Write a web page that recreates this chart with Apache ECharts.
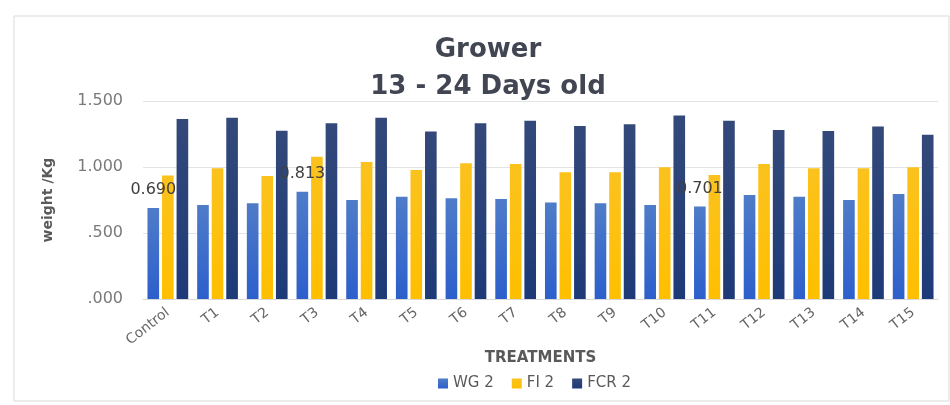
<!DOCTYPE html>
<html>
<head>
<meta charset="utf-8">
<script src="https://cdn.jsdelivr.net/npm/echarts@6/dist/echarts.min.js"></script>
<style>
html,body{margin:0;padding:0;background:#fff;}
#chart{width:950px;height:405px;}
</style>
</head>
<body>
<div id="chart"></div>
<script>
const categories = ['Control','T1','T2','T3','T4','T5','T6','T7','T8','T9','T10','T11','T12','T13','T14','T15'];
const wg2  = [0.690,0.712,0.725,0.813,0.750,0.775,0.763,0.758,0.732,0.725,0.712,0.701,0.788,0.775,0.750,0.795];
const fi2  = [0.935,0.990,0.932,1.078,1.038,0.977,1.028,1.023,0.960,0.960,0.998,0.940,1.023,0.990,0.990,0.998];
const fcr2 = [1.364,1.373,1.275,1.331,1.373,1.268,1.331,1.351,1.310,1.323,1.390,1.351,1.280,1.273,1.306,1.245];
const wgLabeled = ['Control','T3','T11'];
const yTicks = [0, 0.5, 1.0, 1.5];

const FONT = 'DejaVu Sans';
function grad(top, bottom){
  return new echarts.graphic.LinearGradient(0,0,0,1,[{offset:0,color:top},{offset:1,color:bottom}]);
}
const chart = echarts.init(document.getElementById('chart'), null, {renderer:'canvas'});
const wgData = wg2.map((v,i)=>({
  value:v,
  label:{show: wgLabeled.includes(categories[i])}
}));
chart.setOption({
  animation:false,
  backgroundColor:'#fff',
  graphic:[{type:'rect',shape:{x:14,y:16,width:935,height:385},style:{fill:'none',stroke:'#d9d9d9',lineWidth:1},silent:true}],
  title:{
    text:'Grower\n13 - 24 Days old',
    left:488, top:32, textAlign:'center', padding:0,
    textStyle:{fontFamily:FONT,fontWeight:'bold',fontSize:26,lineHeight:37,color:'#414652'}
  },
  legend:{
    left:433, top:371, itemWidth:10, itemHeight:10, itemGap:18,
    icon:'rect',
    textStyle:{fontFamily:FONT,fontSize:15,color:'#595959'},
    data:['WG 2','FI 2','FCR 2']
  },
  grid:{left:143,right:12,top:101,bottom:106},
  xAxis:{
    type:'category', data:categories,
    name:'TREATMENTS', nameLocation:'middle', nameGap:50,
    nameTextStyle:{fontFamily:FONT,fontWeight:'bold',fontSize:15,color:'#595959'},
    axisTick:{show:false},
    axisLine:{lineStyle:{color:'#d9d9d9'}},
    axisLabel:{rotate:38,margin:12,fontFamily:FONT,fontSize:14,color:'#666',interval:0}
  },
  yAxis:{
    type:'value', min:yTicks[0], max:yTicks[yTicks.length-1], interval:yTicks[1]-yTicks[0],
    name:'weight /Kg', nameLocation:'middle', nameGap:88, nameRotate:90,
    nameTextStyle:{fontFamily:FONT,fontWeight:'bold',fontSize:14,color:'#595959'},
    axisLine:{show:false}, axisTick:{show:false},
    splitLine:{lineStyle:{color:'#e3e3e3'}},
    axisLabel:{fontFamily:FONT,fontSize:16,color:'#7a7a7a',margin:20,
      formatter:v=>v.toFixed(3).replace(/^0/,'')}
  },
  series:[
    {name:'WG 2',type:'bar',data:wgData,barGap:'25%',barCategoryGap:'18%',
     itemStyle:{color:grad('#4f7cc8','#2d5fcc')},
     label:{position:'top',distance:10,fontFamily:FONT,fontSize:16,color:'#404040',formatter:p=>p.value.toFixed(3)}},
    {name:'FI 2',type:'bar',data:fi2,barGap:'25%',barCategoryGap:'18%',
     itemStyle:{color:grad('#fbc21e','#ffbf00')}},
    {name:'FCR 2',type:'bar',data:fcr2,barGap:'25%',barCategoryGap:'18%',
     itemStyle:{color:grad('#34497a','#1d3a78')}}
  ],
  color:['#4472C4','#FFC000','#26417a']
});
</script>
</body>
</html>
